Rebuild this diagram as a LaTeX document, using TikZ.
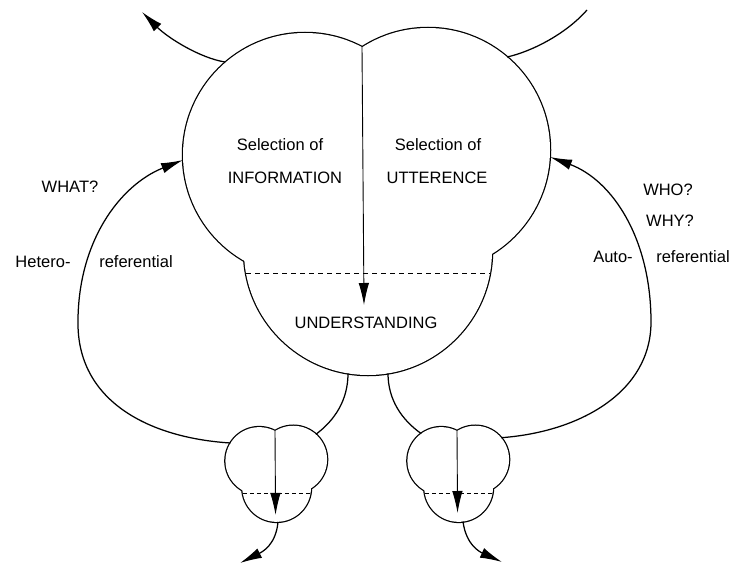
\documentclass[tikz,border=0pt]{standalone}
\usepackage{fontspec}
\setmainfont{Liberation Sans}
\usetikzlibrary{arrows.meta}

\tikzset{
  conn/.style={line width=1.25pt},
  tip/.style={-{Latex[length=22pt,width=10.5pt]}},
  connarrow/.style={conn, tip},
  txt/.style={inner sep=0pt, font=\fontsize{16.5}{20}\selectfont},
}

% Three overlapping discs (two upper lobes, one lower) with the
% vertical selection arrow and the dashed chord across the lower disc.
% #1 name, #2 top notch, #3 scale, #4 arrow depth, #5 dash pattern
\newcommand\trefoilshape[5]{%
  \begin{scope}[shift={#2}, scale=#3]
    \draw[line width=2.5pt] (-57,108) circle[radius=122] (66,103) circle[radius=122] (6,204) circle[radius=124];
    \fill[white] (-57,108) circle[radius=122] (66,103) circle[radius=122] (6,204) circle[radius=124];
    \coordinate (#1-top) at (0,0);
    \coordinate (#1-tip) at (2,#4);
    \draw[line width=0.8pt, dash pattern=#5] (-116,226) -- (128,226);
    \draw[line width=0.9pt, tip] (#1-top) -- (#1-tip);
  \end{scope}}

\begin{document}
\begin{tikzpicture}[x=1pt, y=-1pt]
\useasboundingbox (0,0) rectangle (733,567);

% the three systems
\trefoilshape{big}{(362,47)}{1}{258}{on 5pt off 4pt}
\trefoilshape{sl}{(275,431)}{0.277}{303}{on 4pt off 3pt}
\trefoilshape{sr}{(457,431)}{0.277}{296}{on 4pt off 3pt}

% texts inside the large system
\node[txt] (selinfo) at (280,145) {Selection of};
\node[txt] (info)    at (285,178) {INFORMATION};
\node[txt] (selutt)  at (438,145) {Selection of};
\node[txt] (utt)     at (437,178) {UTTERENCE};
\node[txt] (under)   at (366,323) {UNDERSTANDING};

% side labels
\node[txt] (what)    at (70,187)  {WHAT?};
\node[txt] (hetero)  at (43,262)  {Hetero-};
\node[txt] (hetref)  at (136,262) {referential};
\node[txt] (who)     at (668,190) {WHO?};
\node[txt] (why)     at (670,221) {WHY?};
\node[txt] (auto)    at (613,257) {Auto-};
\node[txt] (autoref) at (693,257) {referential};

% connector end points
\coordinate (tlstart) at (225,62);
\coordinate (tlend)   at (142,12);
\coordinate (trstart) at (507,57);
\coordinate (trend)   at (587,10);
\coordinate (whatin)  at (183,160);
\coordinate (whoin)   at (550,157);
\coordinate (slleft)  at (230.5,443);
\coordinate (slright) at (315.9,434.3);
\coordinate (srleft)  at (421.2,433.6);
\coordinate (srright) at (501.2,437.7);
\coordinate (bigbl)   at (348,373.4);
\coordinate (bigbr)   at (388,373.4);
\coordinate (slbot)   at (278,521.8);
\coordinate (srbot)   at (463,521.5);
\coordinate (slout)   at (240,563);
\coordinate (srout)   at (502,562);

% outgoing lines at the top
\draw[connarrow] (tlstart) .. controls (200,58) and (168,38) .. (tlend);
\draw[conn] (trstart) .. controls (530,52) and (565,35) .. (trend);

% hetero- and auto-referential loops
\draw[connarrow] (slleft) .. controls (150,438) and (79,402) .. (78,325)
  .. controls (77,242) and (120,185) .. (whatin);
\draw[connarrow] (srright) .. controls (580,432) and (651,392) .. (651,322)
  .. controls (651,238) and (612,180) .. (whoin);

% links from the large system down to the small ones
\draw[conn] (bigbl) .. controls (348,400) and (335,420) .. (slright);
\draw[conn] (bigbr) .. controls (388,400) and (402,420) .. (srleft);

% outgoing arrows at the bottom
\draw[connarrow] (slbot) .. controls (276,545) and (262,552) .. (slout);
\draw[connarrow] (srbot) .. controls (466,545) and (480,552) .. (srout);
\end{tikzpicture}
\end{document}
